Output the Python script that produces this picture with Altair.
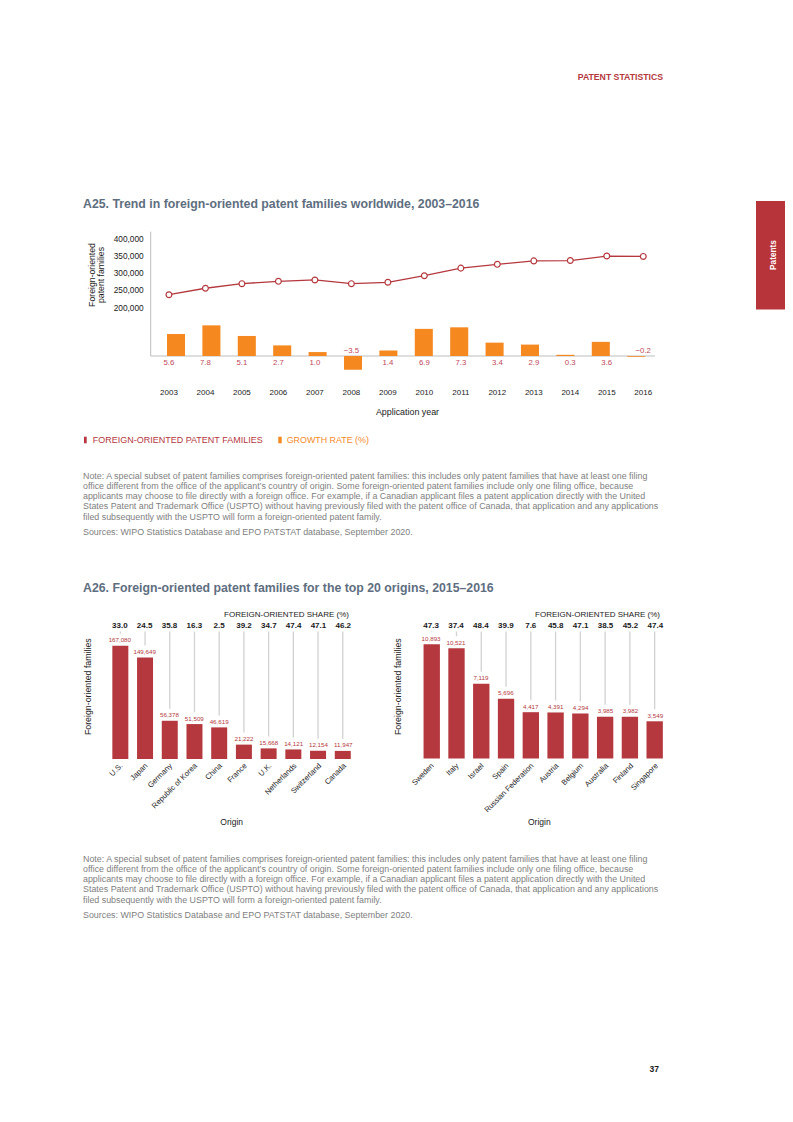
import altair as alt
import pandas as pd

FONT = "Liberation Sans"
RED = "#b5383e"
TAB_RED = "#b8343b"
ORANGE = "#f5891f"
TITLE_C = "#5e6e7f"
NOTE_C = "#808080"
DARK = "#1a1a1a"
GRID = "#d2d2d2"
AXIS_C = "#bdbdbd"
LAB_RED = "#c0485a"

# ---------------- data: A25 ----------------
years = ["2003", "2004", "2005", "2006", "2007", "2008", "2009",
         "2010", "2011", "2012", "2013", "2014", "2015", "2016"]
families = [240000, 258700, 272000, 278800, 282700, 272000, 276000,
            295000, 317000, 328000, 338000, 339000, 352000, 351000]
growth = [5.6, 7.8, 5.1, 2.7, 1.0, -3.5, 1.4, 6.9, 7.3, 3.4, 2.9, 0.3, 3.6, -0.2]
y_ticks = [200000, 250000, 300000, 350000, 400000]

# ---------------- data: A26 ----------------
left_origins = ["U.S.", "Japan", "Germany", "Republic of Korea", "China",
                "France", "U.K.", "Netherlands", "Switzerland", "Canada"]
left_families = [167080, 149649, 56378, 51509, 46619, 21222, 15668, 14121, 12154, 11947]
left_share = [33.0, 24.5, 35.8, 16.3, 2.5, 39.2, 34.7, 47.4, 47.1, 46.2]

right_origins = ["Sweden", "Italy", "Israel", "Spain", "Russian Federation",
                 "Austria", "Belgium", "Australia", "Finland", "Singapore"]
right_families = [10893, 10521, 7119, 5696, 4417, 4391, 4294, 3985, 3982, 3549]
right_share = [47.3, 37.4, 48.4, 39.9, 7.6, 45.8, 47.1, 38.5, 45.2, 47.4]

note_lines = [
    "Note: A special subset of patent families comprises foreign-oriented patent families: this includes only patent families that have at least one filing",
    "office different from the office of the applicant\u2019s country of origin. Some foreign-oriented patent families include only one filing office, because",
    "applicants may choose to file directly with a foreign office. For example, if a Canadian applicant files a patent application directly with the United",
    "States Patent and Trademark Office (USPTO) without having previously filed with the patent office of Canada, that application and any applications",
    "filed subsequently with the USPTO will form a foreign-oriented patent family.",
]
sources = "Sources: WIPO Statistics Database and EPO PATSTAT database, September 2020."


def label(text, x, y, size, color=DARK, weight="normal", align="left",
          baseline="middle", angle=None, line_height=None):
    df = pd.DataFrame({"t": [text]})
    kw = dict(font=FONT, fontSize=size, color=color, fontWeight=weight,
              align=align, baseline=baseline)
    if angle is not None:
        kw["angle"] = angle
    if line_height is not None:
        kw["lineBreak"] = "\n"
        kw["lineHeight"] = line_height
    return alt.Chart(df).mark_text(**kw).encode(
        x=alt.value(x), y=alt.value(y), text="t:N")


def block(x, x2, y, y2, color):
    df = pd.DataFrame({"k": [0]})
    return alt.Chart(df).mark_rect(color=color).encode(
        x=alt.value(x), x2=alt.value(x2), y=alt.value(y), y2=alt.value(y2))


def hrule(x, x2, y, color, width=1.0):
    df = pd.DataFrame({"k": [0]})
    return alt.Chart(df).mark_rule(color=color, strokeWidth=width).encode(
        x=alt.value(x), x2=alt.value(x2), y=alt.value(y))


def vrule(x, y, y2, color, width=1.0):
    df = pd.DataFrame({"k": [0]})
    return alt.Chart(df).mark_rule(color=color, strokeWidth=width).encode(
        x=alt.value(x), y=alt.value(y), y2=alt.value(y2))


layers = []

# ---------------- page furniture ----------------
layers.append(label("PATENT STATISTICS", 655, 69, 8.7, RED, "bold", "right"))
layers.append(block(748, 777, 193, 301.5, TAB_RED))
layers.append(label("Patents", 766, 247, 8.3, "white", "bold", "center", angle=270))
layers.append(label("37", 651, 1061, 8.5, DARK, "bold", "right"))

# ---------------- A25 ----------------
layers.append(label("A25. Trend in foreign-oriented patent families worldwide, 2003\u20132016",
                    75, 196, 12.3, TITLE_C, "bold"))

df25 = pd.DataFrame({"year": years, "families": families, "growth": growth})
df25["glabel"] = [f"{g:.1f}".replace("-", "\u2212") for g in growth]
df_ticks = pd.DataFrame({"v": y_ticks, "lab": [f"{v:,}" for v in y_ticks]})

x25 = alt.X("year:O", axis=None,
            scale=alt.Scale(domain=years, range=[142.7, 653.5],
                            paddingInner=0.49, paddingOuter=0.46))
y_line = alt.Scale(domain=[200000, 400000], range=[300.5, 231.5], zero=False, nice=False)
y_growth = alt.Scale(domain=[-5, 10], range=[367.65, 308.7], nice=False)

layers.append(vrule(142.7, 223.7, 348, AXIS_C, 1))
layers.append(hrule(142.7, 647, 348, AXIS_C, 1))

layers.append(alt.Chart(df_ticks).mark_text(font=FONT, fontSize=8.3, color=DARK, align="right",
                                            baseline="middle").encode(
    x=alt.value(135.7), y=alt.Y("v:Q", scale=y_line, axis=None), text="lab:N"))

layers.append(alt.Chart(df25).mark_bar(color=ORANGE).encode(
    x=x25, y=alt.Y("growth:Q", scale=y_growth, axis=None)))

layers.append(alt.Chart(df25).transform_filter("datum.growth >= 0").mark_text(
    font=FONT, fontSize=7.8, color=LAB_RED, baseline="middle").encode(
    x=x25, y=alt.value(354.5), text="glabel:N"))
layers.append(alt.Chart(df25).transform_filter("datum.growth < 0").mark_text(
    font=FONT, fontSize=7.8, color=LAB_RED, baseline="middle").encode(
    x=x25, y=alt.value(342.7), text="glabel:N"))

layers.append(alt.Chart(df25).mark_line(color=RED, strokeWidth=1.3).encode(
    x=x25, y=alt.Y("families:Q", scale=y_line, axis=None)))
layers.append(alt.Chart(df25).mark_point(shape="circle", filled=True, fill="white", stroke=RED,
                                         strokeWidth=1.2, size=34, opacity=1).encode(
    x=x25, y=alt.Y("families:Q", scale=y_line, axis=None)))

layers.append(alt.Chart(df25).mark_text(font=FONT, fontSize=8, color=DARK, baseline="middle").encode(
    x=x25, y=alt.value(384.7), text="year:N"))

layers.append(label("Application year", 399.5, 404.3, 8.9, DARK, "normal", "center"))
layers.append(label("Foreign-oriented\npatent families", 84, 267, 8.7, DARK, "normal", "center",
                    angle=270, line_height=9))

# legend
layers.append(block(76, 78.7, 428.7, 435.3, RED))
layers.append(label("FOREIGN-ORIENTED PATENT FAMILIES", 84.7, 432, 9, RED))
layers.append(block(270.3, 273.7, 428.7, 435.3, ORANGE))
layers.append(label("GROWTH RATE (%)", 278.7, 432, 8.9, ORANGE))

# notes
for i, line in enumerate(note_lines):
    layers.append(label(line, 75, 467.5 + 10.3 * i, 8.9, NOTE_C))
layers.append(label(sources, 75, 523.5, 8.9, NOTE_C))

# ---------------- A26 ----------------
layers.append(label("A26. Foreign-oriented patent families for the top 20 origins, 2015\u20132016",
                    75, 580, 12.3, TITLE_C, "bold"))


def panel(origins, fams, shares, xrange, pin, yrange, title_x, origin_x, ytitle_x):
    df = pd.DataFrame({"origin": origins, "fam": fams,
                       "share": [f"{s:.1f}" for s in shares],
                       "flab": [f"{v:,}" for v in fams]})
    xs = alt.X("origin:N", axis=None,
               scale=alt.Scale(domain=origins, range=xrange, paddingInner=pin, paddingOuter=0.2))
    ys = alt.Scale(domain=[0, max(fams)], range=yrange, nice=False)
    out = []
    out.append(alt.Chart(df).mark_rule(color=GRID, strokeWidth=1.3, yOffset=-12).encode(
        x=xs, y=alt.Y("fam:Q", scale=ys, axis=None), y2=alt.value(623.5)))
    out.append(alt.Chart(df).mark_bar(color=RED).encode(
        x=xs, y=alt.Y("fam:Q", scale=ys, axis=None)))
    out.append(alt.Chart(df).mark_text(font=FONT, fontSize=6.2, color=RED, baseline="bottom",
                                       dy=-2.5).encode(
        x=xs, y=alt.Y("fam:Q", scale=ys, axis=None), text="flab:N"))
    out.append(alt.Chart(df).mark_text(font=FONT, fontSize=8, color=DARK, fontWeight="bold",
                                       baseline="middle").encode(
        x=xs, y=alt.value(617.7), text="share:N"))
    out.append(alt.Chart(df).mark_text(font=FONT, fontSize=7.6, color=DARK, angle=315,
                                       align="right", baseline="top", xOffset=-1).encode(
        x=xs, y=alt.value(754), text="origin:N"))
    out.append(label("FOREIGN-ORIENTED SHARE (%)", title_x, 607, 8, DARK, "normal", "center"))
    out.append(label("Origin", origin_x, 813.7, 8.5, DARK, "normal", "center"))
    out.append(label("Foreign-oriented families", ytitle_x, 678.7, 8.8, DARK, "normal", "center",
                     angle=270))
    return out


layers += panel(left_origins, left_families, left_share, [99.4, 347.7], 0.353,
                [751, 637.7], 278.5, 223.7, 80.3)
layers += panel(right_origins, right_families, right_share, [410.6, 659.8], 0.34,
                [750.5, 636.3], 589.5, 531.3, 390.3)

for i, line in enumerate(note_lines):
    layers.append(label(line, 75, 850.5 + 10.3 * i, 8.9, NOTE_C))
layers.append(label(sources, 75, 907, 8.9, NOTE_C))

chart = alt.layer(*layers).resolve_scale(x="independent", y="independent").properties(
    width=777, height=1100, padding=0,
    autosize=alt.AutoSizeParams(type="none"),
).configure(font=FONT).configure_view(stroke=None)

chart.save("out.html", embed_options={"renderer": "svg", "actions": False})
